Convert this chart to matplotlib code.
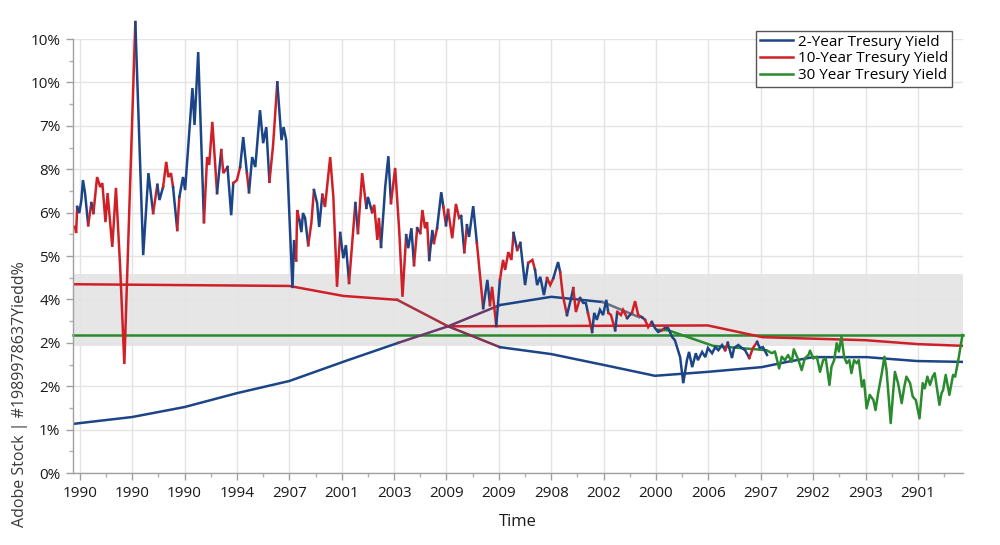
import matplotlib
matplotlib.use("Agg")
import matplotlib.pyplot as plt
from matplotlib.ticker import AutoMinorLocator, FixedLocator

# ---------------- data ----------------
x_tick_labels = ['1990', '1990', '1990', '1994', '2907', '2001', '2003', '2009', '2009',
                 '2908', '2002', '2000', '2006', '2907', '2902', '2903', '2901']
y_tick_labels = ['0%', '1%', '2%', '2%', '4%', '5%', '6%', '8%', '7%', '10%', '10%']

# noisy 2-year / 10-year path (position on time axis, value, colour of segment arriving at point)
noisy_x = [-0.09, -0.07, -0.05, -0.01, 0.03, 0.06, 0.10, 0.16, 0.22, 0.26, 0.33, 0.39, 0.43, 0.49,
           0.53, 0.62, 0.69, 0.77, 0.85, 1.06, 1.21, 1.31, 1.40, 1.48, 1.52, 1.59, 1.65, 1.69,
           1.74, 1.78, 1.86, 1.90, 1.97, 2.01, 2.15, 2.19, 2.26, 2.37, 2.43, 2.47, 2.53, 2.62,
           2.70, 2.74, 2.82, 2.89, 2.93, 3.00, 3.06, 3.12, 3.19, 3.23, 3.29, 3.35, 3.44, 3.50,
           3.56, 3.62, 3.69, 3.77, 3.85, 3.89, 3.94, 4.06, 4.09, 4.13, 4.15, 4.19, 4.23, 4.26,
           4.30, 4.36, 4.42, 4.47, 4.53, 4.57, 4.63, 4.68, 4.78, 4.84, 4.91, 4.97, 5.03, 5.08,
           5.14, 5.26, 5.31, 5.39, 5.47, 5.50, 5.58, 5.62, 5.68, 5.71, 5.75, 5.83, 5.89, 5.94,
           6.02, 6.10, 6.16, 6.23, 6.27, 6.33, 6.38, 6.44, 6.50, 6.54, 6.59, 6.63, 6.67, 6.73,
           6.76, 6.82, 6.90, 6.94, 6.99, 7.03, 7.11, 7.18, 7.24, 7.28, 7.34, 7.39, 7.43, 7.51,
           7.58, 7.70, 7.78, 7.83, 7.87, 7.95, 8.02, 8.08, 8.12, 8.18, 8.24, 8.28, 8.35, 8.41,
           8.50, 8.56, 8.64, 8.69, 8.73, 8.79, 8.86, 8.92, 8.98, 9.04, 9.13, 9.17, 9.22, 9.30,
           9.38, 9.42, 9.47, 9.55, 9.61, 9.66, 9.70, 9.78, 9.82, 9.87, 9.93, 9.99, 10.05, 10.09,
           10.14, 10.22, 10.26, 10.33, 10.37, 10.45, 10.54, 10.60, 10.66, 10.73, 10.79, 10.85,
           10.92, 10.98, 11.04, 11.11, 11.17, 11.23, 11.31, 11.36, 11.46, 11.52, 11.59, 11.63,
           11.69, 11.76, 11.80, 11.88, 11.94, 11.99, 12.07, 12.13, 12.19, 12.26, 12.32, 12.37,
           12.45, 12.49, 12.57, 12.64, 12.70, 12.78, 12.85, 12.93, 12.98, 13.04, 13.12]
noisy_y = [5.67, 5.53, 6.13, 5.99, 6.29, 6.75, 6.45, 5.71, 6.22, 5.99, 6.82, 6.59, 6.68, 5.78,
           6.45, 5.21, 6.57, 4.75, 2.51, 10.39, 5.02, 6.91, 5.99, 6.64, 6.29, 6.59, 7.17, 6.82,
           6.91, 6.59, 5.60, 6.36, 6.82, 6.52, 8.87, 8.02, 9.70, 5.78, 7.28, 7.10, 8.09, 6.45,
           7.44, 6.91, 7.05, 5.94, 6.68, 6.75, 7.05, 7.74, 6.91, 6.47, 7.28, 7.05, 8.36, 7.60,
           7.97, 6.71, 7.56, 9.00, 7.67, 7.97, 7.67, 4.26, 5.37, 4.90, 6.06, 5.83, 5.55, 5.99,
           5.88, 5.25, 5.76, 6.52, 6.22, 5.67, 6.41, 6.13, 7.28, 6.36, 4.29, 5.53, 4.95, 5.25,
           4.38, 6.22, 5.53, 6.91, 6.11, 6.36, 6.01, 6.18, 5.37, 5.88, 5.21, 6.59, 7.30, 6.22,
           7.03, 5.53, 4.06, 5.48, 5.18, 5.64, 4.79, 5.64, 5.53, 6.06, 5.64, 5.78, 4.91, 5.60,
           5.30, 5.64, 6.47, 6.13, 5.71, 6.06, 5.41, 6.20, 5.88, 5.92, 5.09, 5.71, 5.44, 6.15,
           5.30, 3.80, 4.45, 3.87, 4.29, 3.39, 4.45, 4.91, 4.68, 5.09, 4.91, 5.53, 5.14, 5.30,
           4.33, 4.84, 4.91, 4.68, 4.33, 4.52, 4.10, 4.49, 4.33, 4.49, 4.86, 4.63, 4.10, 3.64,
           4.03, 4.26, 3.71, 4.03, 3.92, 3.92, 3.69, 3.25, 3.69, 3.53, 3.76, 3.64, 3.99, 3.69,
           3.64, 3.29, 3.71, 3.64, 3.76, 3.57, 3.69, 3.96, 3.64, 3.59, 3.53, 3.36,
           3.48, 3.34, 3.25, 3.29, 3.34, 3.34, 3.13, 3.06, 2.67, 2.07, 2.60, 2.79,
           2.44, 2.76, 2.60, 2.79, 2.67, 2.88, 2.76, 2.90, 2.83, 2.95, 2.83, 3.00,
           2.65, 2.88, 2.95, 2.88, 2.83, 2.65, 2.88, 3.02, 2.88, 2.90, 2.72]
noisy_c = ('rrrbbbbbrbrrrrrrrrrrbbbrbbrrrrbrbbbbbbrrrrbrrbbrrbbrbbbbbbrrbbbb'
           'bbrrbbbbrrbbbrrrrrbbbrbrrbbrrrrbbbrrrrbbbrbrrrrbbrbbrbrrrrbrbbbr'
           'bbrrbrrrrrbrbbrrbbbbrrbbrrbbrrbbbrbbbbbbrrbrrrbrrrbrrbbbrbbbbbbb'
           'bbbbbbbbbbbrbbbbbbrrbbb')

# smooth trend lines
blue_trend_x = [-0.13, 0.0, 1.0, 2.0, 3.0, 4.0, 5.07, 6.08]
blue_trend_y = [1.13, 1.15, 1.29, 1.52, 1.84, 2.12, 2.58, 3.00]
blend_up_x = [6.08, 7.03, 8.02]
blend_up_y = [3.00, 3.38, 3.87]
blue_upper_x = [8.02, 9.0, 9.98]
blue_upper_y = [3.87, 4.06, 3.94]
grey_upper_x = [9.98, 10.68]
grey_upper_y = [3.94, 3.59]
blend_down_x = [7.03, 8.02]
blend_down_y = [3.38, 2.90]
blue_lower_x = [8.02, 9.0, 10.0, 10.98, 11.98, 13.02, 13.5, 14.0, 15.02, 15.98, 16.86]
blue_lower_y = [2.90, 2.74, 2.49, 2.24, 2.33, 2.44, 2.56, 2.67, 2.67, 2.58, 2.56]

red_trend_x = [-0.13, 4.0, 5.03, 6.06]
red_trend_y = [4.35, 4.31, 4.08, 3.99]
red_blend_x = [6.06, 7.03]
red_blend_y = [3.99, 3.38]
red_flat_x = [7.03, 11.99, 13.03, 15.0, 16.0, 16.86]
red_flat_y = [3.38, 3.40, 3.13, 3.06, 2.97, 2.93]

green_level = 3.18
green_x = [11.02, 11.23, 12.09, 12.60, 13.11, 13.21, 13.27, 13.35, 13.40, 13.46, 13.52, 13.59,
           13.63, 13.72, 13.78, 13.84, 13.91, 13.94, 14.00, 14.07, 14.13, 14.19, 14.24, 14.31,
           14.35, 14.40, 14.45, 14.49, 14.54, 14.59, 14.64, 14.69, 14.73, 14.78, 14.83, 14.87,
           14.93, 14.97, 15.02, 15.08, 15.15, 15.19, 15.24, 15.31, 15.36, 15.40, 15.48, 15.53,
           15.56, 15.62, 15.69, 15.74, 15.78, 15.85, 15.90, 15.96, 16.03, 16.09, 16.13, 16.18,
           16.23, 16.28, 16.32, 16.41, 16.45, 16.48, 16.53, 16.60, 16.67, 16.71, 16.77, 16.85]
green_y = [3.30, 3.29, 2.93, 2.88, 2.83, 2.76, 2.80, 2.41, 2.68, 2.60, 2.72, 2.56,
           2.85, 2.60, 2.37, 2.64, 2.72, 2.82, 2.64, 2.68, 2.33, 2.60, 2.64, 2.03,
           2.45, 2.60, 2.99, 2.80, 3.14, 2.68, 2.53, 2.60, 2.30, 2.60, 2.53, 2.60,
           1.99, 2.14, 1.49, 1.80, 1.68, 1.45, 1.84, 2.30, 2.68, 2.37, 1.15, 1.91,
           2.33, 2.07, 1.61, 1.99, 2.22, 2.07, 1.76, 1.68, 1.26, 2.07, 1.95, 2.22,
           2.03, 2.22, 2.30, 1.57, 1.84, 1.91, 2.26, 1.80, 2.26, 2.22, 2.60, 3.18]

band_low, band_high = 2.93, 4.59
x_min, x_max = -0.13, 16.86

# ---------------- styling ----------------
BLUE = '#1c4587'
RED = '#cf2027'
GREEN = '#2a8a2e'
plt.rcParams['font.family'] = ['Open Sans', 'DejaVu Sans']

fig = plt.figure(figsize=(10, 5.45), dpi=100)
ax = fig.add_axes([0.073, 0.1321, 0.89, 0.7963])
ax.set_xlim(x_min, x_max)
ax.set_ylim(0, 10)

ax.axhspan(band_low, band_high, color='#e6e6e6', zorder=0.5, lw=0)
ax.set_axisbelow(True)
ax.grid(True, which='major', color='#e4e4e4', lw=1.0, zorder=0.3)

lw = 1.8
ax.plot([x_min, x_max], [green_level, green_level], color=GREEN, lw=lw, zorder=2,
        label='30 Year Tresury Yield', clip_on=False)
ax.plot(green_x, green_y, color=GREEN, lw=lw, zorder=2.5, clip_on=False)

ax.plot(red_trend_x, red_trend_y, color=RED, lw=lw, zorder=2, label='10-Year Tresury Yield')
ax.plot(red_blend_x, red_blend_y, color='#a8323f', lw=lw, zorder=2)
ax.plot(red_flat_x, red_flat_y, color=RED, lw=lw, zorder=2)

ax.plot(blue_trend_x, blue_trend_y, color=BLUE, lw=lw, zorder=2, label='2-Year Tresury Yield')
ax.plot(blend_up_x, blend_up_y, color='#6a3a6c', lw=lw, zorder=2)
ax.plot(blue_upper_x, blue_upper_y, color=BLUE, lw=lw, zorder=2)
ax.plot(grey_upper_x, grey_upper_y, color='#6b6f80', lw=lw, zorder=2)
ax.plot(blend_down_x, blend_down_y, color='#7c3452', lw=lw, zorder=2)
ax.plot(blue_lower_x, blue_lower_y, color=BLUE, lw=lw, zorder=2)

# noisy path with alternating colours
start = 0
n = len(noisy_x)
i = 1
while i < n:
    c = noisy_c[i]
    j = i
    while j + 1 < n and noisy_c[j + 1] == c:
        j += 1
    ax.plot(noisy_x[i - 1:j + 1], noisy_y[i - 1:j + 1], color=(RED if c == 'r' else BLUE),
            lw=lw, zorder=3, clip_on=False, solid_joinstyle='miter')
    i = j + 1

# axes cosmetics
ax.xaxis.set_major_locator(FixedLocator(range(len(x_tick_labels))))
ax.set_xticklabels(x_tick_labels)
ax.yaxis.set_major_locator(FixedLocator(range(len(y_tick_labels))))
ax.set_yticklabels(y_tick_labels)
ax.xaxis.set_minor_locator(AutoMinorLocator(2))
ax.yaxis.set_minor_locator(AutoMinorLocator(2))
ax.tick_params(axis='both', which='major', length=5, width=1, color='#a0a0a0',
               labelsize=11, labelcolor='#1a1a1a', pad=4)
ax.tick_params(axis='both', which='minor', length=3, width=1, color='#b0b0b0')
for s in ['top', 'right']:
    ax.spines[s].set_visible(False)
for s in ['left', 'bottom']:
    ax.spines[s].set_color('#a0a0a0')
    ax.spines[s].set_linewidth(1)

ax.set_xlabel('Time', fontsize=12, color='#1a1a1a', labelpad=10)
fig.text(0.02, 0.277, 'Adobe Stock | #1989978637Yiedd%', rotation=90, fontsize=11.5,
         color='#3a3a3a', ha='center', va='center')

handles, labels = ax.get_legend_handles_labels()
order = [2, 1, 0]
leg = ax.legend([handles[k] for k in order], [labels[k] for k in order],
                loc='upper right', bbox_to_anchor=(0.952, 1 - 31 / 545),
                bbox_transform=fig.transFigure, fontsize=11, frameon=True, fancybox=False,
                edgecolor='#555555', framealpha=1, borderpad=0.25, labelspacing=0.1,
                handlelength=2.2, handletextpad=0.3, borderaxespad=0)
leg.get_frame().set_linewidth(1.0)

fig.savefig('out.png', dpi=100)
